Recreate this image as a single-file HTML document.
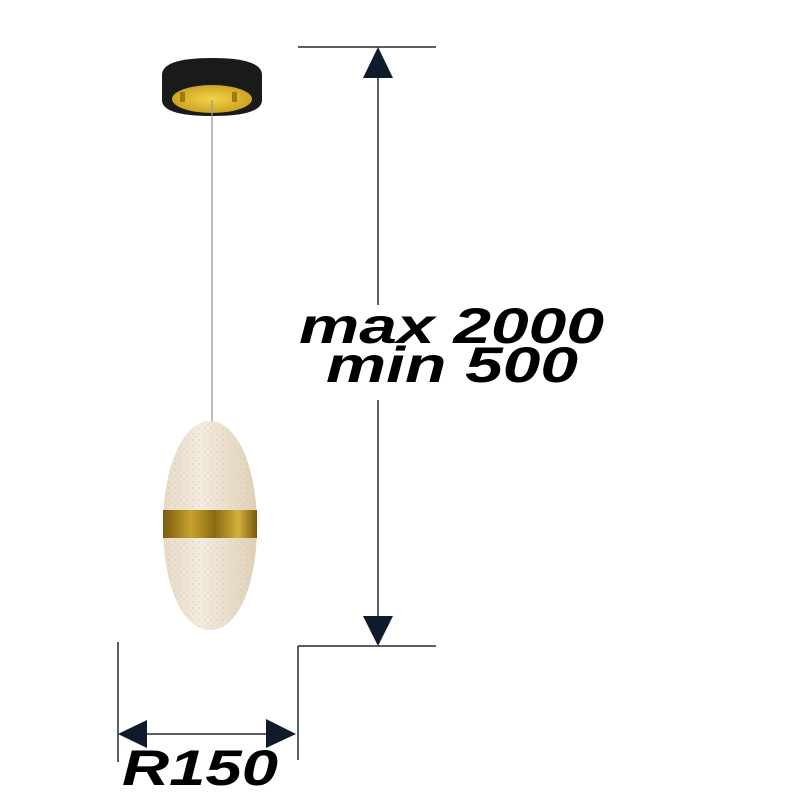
<!DOCTYPE html>
<html><head><meta charset="utf-8"><style>
html,body{margin:0;padding:0;background:#fff;width:800px;height:800px;overflow:hidden}
</style></head><body>
<svg width="800" height="800" viewBox="0 0 800 800" xmlns="http://www.w3.org/2000/svg">
<defs>
<linearGradient id="gold" x1="0" x2="1" y1="0" y2="0">
<stop offset="0" stop-color="#7a5a10"/><stop offset="0.3" stop-color="#c9a22a"/><stop offset="0.55" stop-color="#8a6a12"/><stop offset="0.8" stop-color="#d4b03a"/><stop offset="1" stop-color="#7a5a10"/>
</linearGradient>
<radialGradient id="disc" cx="0.5" cy="0.5" r="0.6">
<stop offset="0" stop-color="#f2d44a"/><stop offset="1" stop-color="#c69a1a"/>
</radialGradient>
<linearGradient id="egg" x1="0" x2="1">
<stop offset="0" stop-color="#e6d9c6"/><stop offset="0.4" stop-color="#f4ece0"/><stop offset="1" stop-color="#e0d0b8"/>
</linearGradient>
<pattern id="spk" width="6" height="6" patternUnits="userSpaceOnUse">
<circle cx="1" cy="2" r="0.7" fill="#cbb894"/><circle cx="4" cy="5" r="0.6" fill="#d5c3a0"/>
</pattern>
</defs>
<path d="M162 75 Q162 58 212 58 Q262 58 262 75 L262 100 Q262 116 212 116 Q162 116 162 100 Z" fill="#1a1a1a"/>
<ellipse cx="212" cy="99" rx="40" ry="14" fill="url(#disc)"/>
<rect x="180" y="92" width="5" height="10" fill="#a07a10"/>
<rect x="232" y="92" width="5" height="10" fill="#a07a10"/>
<line x1="212" y1="100" x2="212" y2="425" stroke="#9a9a9a" stroke-width="1.3"/>
<path id="eg" d="M210 421 C238 421 257 470 257 525 C257 585 238 630 210 630 C182 630 163 585 163 525 C163 470 182 421 210 421 Z" fill="url(#egg)"/>
<path d="M210 421 C238 421 257 470 257 525 C257 585 238 630 210 630 C182 630 163 585 163 525 C163 470 182 421 210 421 Z" fill="url(#spk)" opacity="0.6"/>
<rect x="163" y="510" width="94" height="28" fill="url(#gold)"/>
<g stroke="#1e2a38" stroke-width="1.5" fill="none">
<line x1="298" y1="47" x2="436" y2="47"/>
<line x1="298" y1="646" x2="436" y2="646"/>
<line x1="378" y1="60" x2="378" y2="305"/>
<line x1="378" y1="400" x2="378" y2="635"/>
<line x1="298" y1="646" x2="298" y2="760"/>
<line x1="118" y1="642" x2="118" y2="762"/>
<line x1="130" y1="734" x2="290" y2="734"/>
</g>
<g fill="#0f1a2a">
<polygon points="378,47 363,78 393,78"/>
<polygon points="378,646 363,616 393,616"/>
<polygon points="118,734 147,720 147,748"/>
<polygon points="296,734 266,719 266,748"/>
</g>
<g font-family="'Liberation Sans',Arial,sans-serif" font-weight="bold" font-style="italic" fill="#000">
<text x="299" y="343" font-size="50" textLength="305" lengthAdjust="spacingAndGlyphs">max 2000</text>
<text x="326" y="382" font-size="50" textLength="252" lengthAdjust="spacingAndGlyphs">min 500</text>
<text x="122" y="785" font-size="50" textLength="156" lengthAdjust="spacingAndGlyphs">R150</text>
</g>
</svg>
</body></html>
